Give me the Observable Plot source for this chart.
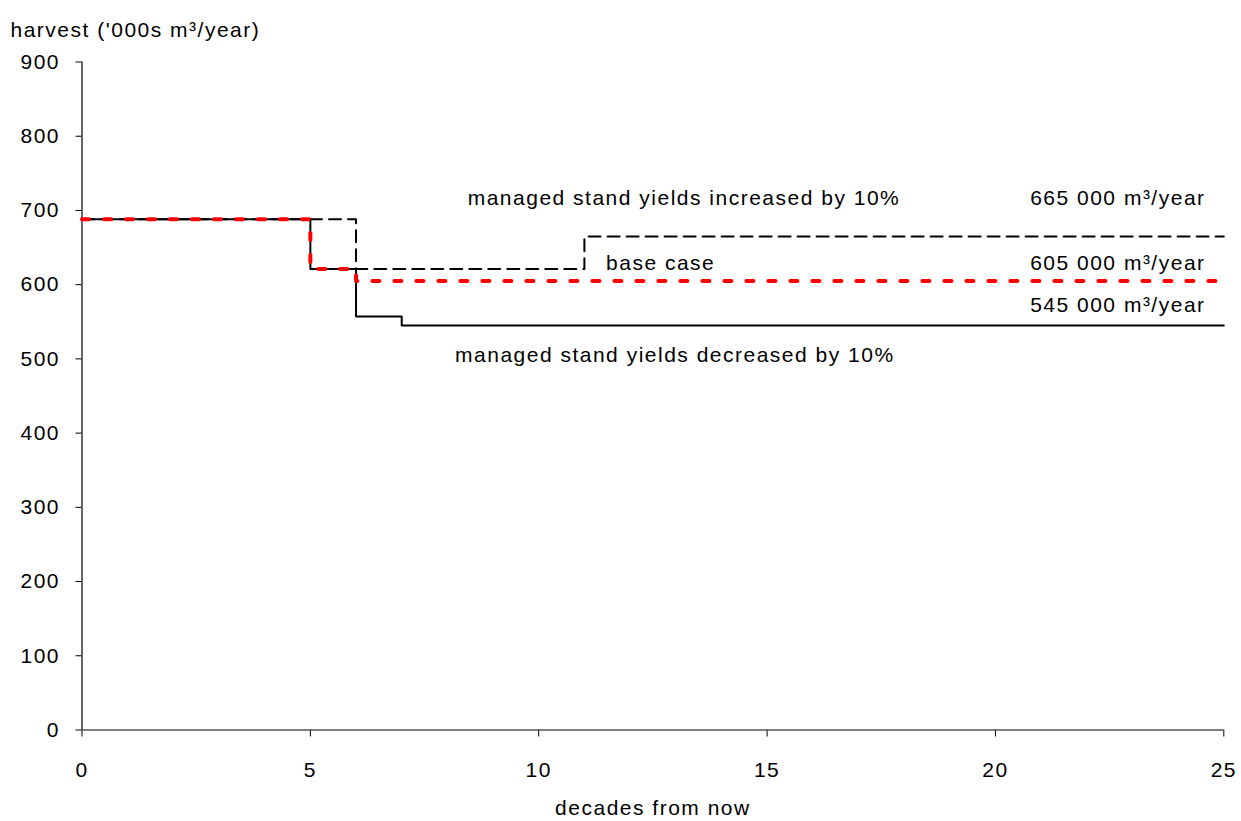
<!DOCTYPE html>
<html>
<head>
<meta charset="utf-8">
<script src="https://cdn.jsdelivr.net/npm/d3@7"></script>
<script src="https://cdn.jsdelivr.net/npm/@observablehq/plot@0.6"></script>
<style>
  html, body { margin: 0; padding: 0; background: #fff; }
</style>
</head>
<body>
<script>
// Step series: decade at which a level starts, harvest ('000s m³/year)
const baseDecades = [0, 5, 6, 25];
const baseValues = [688, 621, 605, 605];
const incDecades = [0, 6, 11, 25];
const incValues = [688, 621, 665, 665];
const decDecades = [0, 5, 6, 7, 25];
const decValues = [688, 621, 557, 545, 545];

const xTicks = [0, 5, 10, 15, 20, 25];
const yTicks = [0, 100, 200, 300, 400, 500, 600, 700, 800, 900];

const annoText = [
  "managed stand yields increased by 10%",
  "665 000 m³/year",
  "base case",
  "605 000 m³/year",
  "545 000 m³/year",
  "managed stand yields decreased by 10%"
];
const annoX = [13.18, 22.68, 12.67, 22.68, 22.68, 12.98];
const annoY = [716, 716, 628.5, 628.5, 572, 504.7];

const yTitle = "harvest ('000s m³/year)";
const xTitle = "decades from now";

const toPts = (xs, ys) => xs.map((d, i) => ({x: d, y: ys[i]}));
const base = toPts(baseDecades, baseValues);
const inc = toPts(incDecades, incValues);
const dec = toPts(decDecades, decValues);
const annos = annoText.map((t, i) => ({text: t, x: annoX[i], y: annoY[i]}));

const chart = Plot.plot({
  width: 1241,
  height: 821,
  marginLeft: 81.5,
  marginRight: 17.7,
  marginTop: 61.5,
  marginBottom: 91.5,
  style: {
    fontFamily: "'Liberation Sans', Arial, sans-serif",
    fontSize: "21px",
    letterSpacing: "1.5px",
    color: "#000",
    background: "#fff"
  },
  x: {domain: [0, 25]},
  y: {domain: [0, 900]},
  marks: [
    Plot.axisX({ticks: xTicks, tickSize: 7, tickPadding: 25, label: null, fontSize: 21}),
    Plot.axisY({ticks: yTicks, tickSize: 6, tickPadding: 16, label: null, fontSize: 21}),
    Plot.ruleY([0], {stroke: "#555", strokeWidth: 1.5}),
    Plot.ruleX([0], {stroke: "#000", strokeWidth: 1.2}),
    Plot.line(dec, {x: "x", y: "y", curve: "step-after", stroke: "#000", strokeWidth: 2}),
    Plot.line(inc, {x: "x", y: "y", curve: "step-after", stroke: "#000", strokeWidth: 2, strokeDasharray: "12,7"}),
    Plot.line(base, {x: "x", y: "y", curve: "step-after", stroke: "#ff0000", strokeWidth: 4, strokeDasharray: "7,15"}),
    Plot.text(annos, {x: "x", y: "y", text: "text", fontSize: 21, fill: "#000"}),
    Plot.text([yTitle], {frameAnchor: "top-left", textAnchor: "start", dx: -71.5, dy: -40, fontSize: 21, fill: "#000"}),
    Plot.text([xTitle], {frameAnchor: "bottom", dy: 85, fontSize: 21, fill: "#000"})
  ]
});
document.body.appendChild(chart);
</script>
</body>
</html>
